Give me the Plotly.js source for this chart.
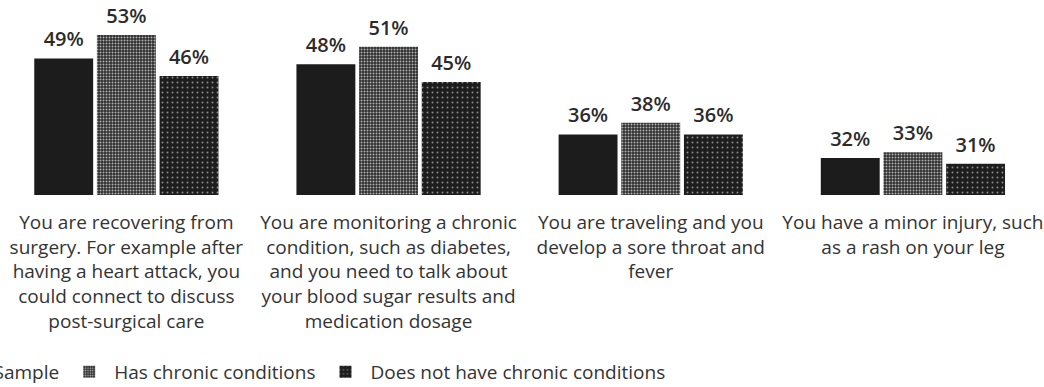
<!DOCTYPE html>
<html>
<head>
<meta charset="utf-8">
<script src="https://cdn.plot.ly/plotly-3.0.1.min.js"></script>
<style>
  html, body { margin: 0; padding: 0; background: #fff; }
  #chart { width: 1044px; height: 387px; }
</style>
</head>
<body>
<div id="chart"></div>
<script>
// Scenarios where respondents would use a virtual visit
const scenarios = [
  "You are recovering from<br>surgery. For example after<br>having a heart attack, you<br>could connect to discuss<br>post-surgical care",
  "You are monitoring a chronic<br>condition, such as diabetes,<br>and you need to talk about<br>your blood sugar results and<br>medication dosage",
  "You are traveling and you<br>develop a sore throat and<br>fever",
  "You have a minor injury, such<br>as a rash on your leg"
];

// Share of respondents (%) per group
const totalSample = [49, 48, 36, 32];
const hasChronic = [53, 51, 38, 33];
const noChronic = [46, 45, 36, 31];

const seriesNames = ["Total Sample", "Has chronic conditions", "Does not have chronic conditions"];
const seriesValues = [totalSample, hasChronic, noChronic];

const pct = v => v + "%";
const FONT = "Open Sans, sans-serif";

const barMarkers = [
  { color: "#1b1c1b", line: { width: 0 } },
  {
    color: "#3a3a3a",
    line: { width: 0 },
    pattern: { shape: ".", bgcolor: "#2e2e2e", fgcolor: "#b0b0b0", size: 3, solidity: 0.35, fillmode: "replace" }
  },
  {
    color: "#1e1f1e",
    line: { width: 0 },
    pattern: { shape: ".", bgcolor: "#1c1d1c", fgcolor: "#8a8a8a", size: 5, solidity: 0.12, fillmode: "replace" }
  }
];

// Bars
const bars = seriesNames.map((name, i) => ({
  type: "bar",
  name: name,
  x: scenarios,
  y: seriesValues[i],
  marker: barMarkers[i],
  hoverinfo: "skip"
}));

// Value labels, grouped alongside the bars and lifted above each bar top
const labels = seriesNames.map((name, i) => ({
  type: "scatter",
  mode: "markers+text",
  name: name + " label",
  showlegend: false,
  x: scenarios,
  y: seriesValues[i],
  text: seriesValues[i].map(pct),
  textposition: "top center",
  textfont: { family: FONT, size: 20, color: "#2b2b2b", weight: 600 },
  marker: { size: 10, opacity: 0 },
  cliponaxis: false,
  hoverinfo: "skip"
}));

const layout = {
  width: 1044,
  height: 387,
  margin: { l: 0, r: 0, t: 0, b: 192, autoexpand: false },
  paper_bgcolor: "#ffffff",
  plot_bgcolor: "#ffffff",
  barmode: "group",
  bargap: 0.283,
  bargroupgap: 0.06,
  scattermode: "group",
  scattergap: 0.283,
  font: { family: FONT, color: "#333333" },
  xaxis: {
    type: "category",
    range: [-0.482, 3.5],
    showline: false,
    showgrid: false,
    zeroline: false,
    ticks: "",
    ticklabelstandoff: 14,
    tickfont: { family: FONT, size: 19, color: "#333333" },
    fixedrange: true
  },
  yaxis: {
    range: [25.675, 58.99],
    visible: false,
    showgrid: false,
    zeroline: false,
    fixedrange: true
  },
  showlegend: true,
  legend: {
    orientation: "h",
    x: -0.101,
    xanchor: "left",
    y: -0.81,
    yanchor: "top",
    itemwidth: 40,
    font: { family: FONT, size: 19, color: "#333333" },
    bgcolor: "rgba(0,0,0,0)"
  }
};

Plotly.newPlot("chart", bars.concat(labels), layout, { staticPlot: true, displayModeBar: false });
</script>
</body>
</html>
